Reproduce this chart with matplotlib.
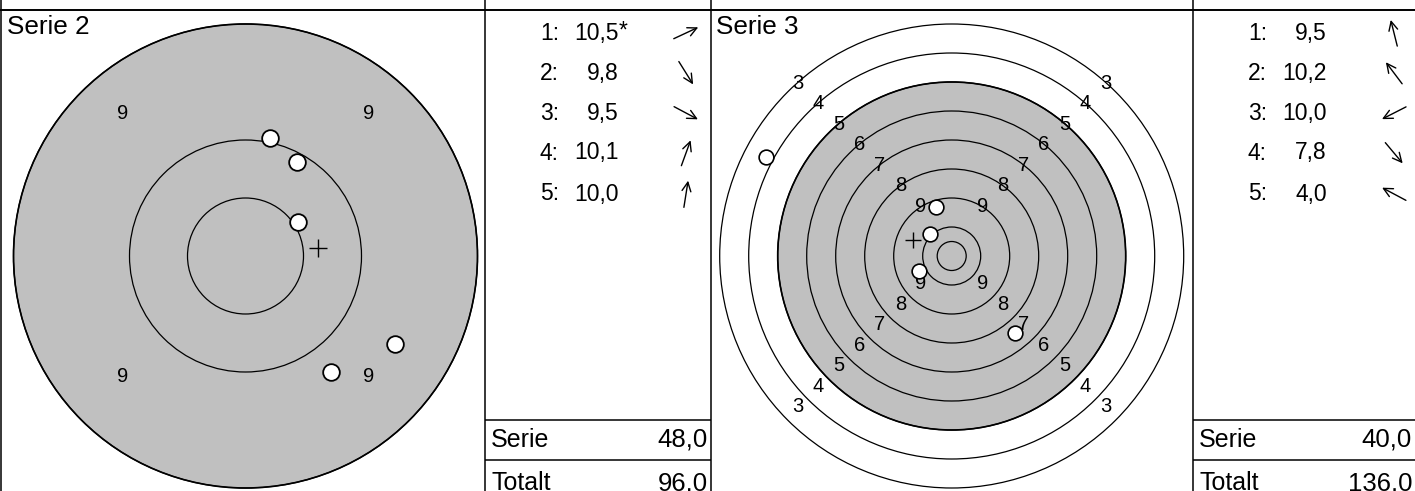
import numpy as np
import matplotlib
matplotlib.use("Agg")
import matplotlib.pyplot as plt
from matplotlib.patches import Circle, FancyArrowPatch
from matplotlib.transforms import ScaledTranslation

plt.rcParams['font.family'] = ['Liberation Sans', 'DejaVu Sans']

# ---------------- data ----------------
series_titles = ["Serie 2", "Serie 3"]
ring_numbers = [3, 4, 5, 6, 7, 8, 9, 10]      # ring value n has radius 11-n (ring units)
black_from_ring = 5                           # grey (aiming black) area = ring 5 and up

# shot positions in ring units, relative to target centre (y up)
s2_x = [0.45, 0.74, 1.29, 0.44, 0.21]
s2_y = [0.29, -1.00, -0.76, 0.81, 1.02]
s3_x = [-0.54, -0.75, -1.13, 2.18, -6.41]
s3_y = [1.70, 0.76, -0.52, -2.66, 3.42]

s2_scores = [10.5, 9.8, 9.5, 10.1, 10.0]
s3_scores = [9.5, 10.2, 10.0, 7.8, 4.0]
s2_inner = [True, False, False, False, False]
s3_inner = [False, False, False, False, False]

# direction arrows (degrees, counter-clockwise from east)
s2_dirs = [25, -58, -28, 70, 81]
s3_dirs = [104, 127, 207, -50, 152]

total_before = 48.0   # total after Serie 1

# ---------------- figure ----------------
W, H = 1415, 491
fig = plt.figure(figsize=(W / 100, H / 100), dpi=100)
fr = fig.add_axes([0, 0, 1, 1])
fr.set_xlim(0, W)
fr.set_ylim(H, 0)
fr.axis('off')

LW = 1.1
GREY = '#c0c0c0'

# layout grid
fr.plot([0, W], [10, 10], color='black', lw=1.4, solid_capstyle='butt')
for x in [1, 485, 711, 1193]:
    fr.plot([x, x], [0, H], color='black', lw=LW, solid_capstyle='butt')
score_cols = [(485, 711), (1193, W + 5)]
for (a, b) in score_cols:
    for y in [420, 460]:
        fr.plot([a, b], [y, y], color='black', lw=LW, solid_capstyle='butt')

def fmt(v):
    return f"{v:.1f}".replace('.', ',')

def make_target_ax(cx, cy, ppu, half_px):
    ax = fig.add_axes([(cx - half_px) / W, (H - cy - half_px) / H,
                       2 * half_px / W, 2 * half_px / H])
    lim = half_px / ppu
    ax.set_xlim(-lim, lim)
    ax.set_ylim(-lim, lim)
    ax.axis('off')
    return ax

def draw_target(ax, view_r, xs, ys, ms, ms_cross, mew):
    # grey aiming area
    grey_r = min(11 - black_from_ring, view_r)
    ax.add_patch(Circle((0, 0), grey_r, facecolor=GREY, edgecolor='black',
                        lw=1.2, zorder=1, clip_on=False))
    for n in ring_numbers:
        r = 11 - n
        if r <= view_r:
            ax.add_patch(Circle((0, 0), r, facecolor='none', edgecolor='black',
                                lw=0.9, zorder=2, clip_on=False))
    ax.add_patch(Circle((0, 0), 0.5, facecolor='none', edgecolor='black',
                        lw=0.9, zorder=2, clip_on=False))
    # ring numbers on the diagonals
    for n in ring_numbers[:-1]:
        rr = 10.5 - n
        if rr < view_r:
            d = rr / np.sqrt(2)
            for sx, sy in [(-1, 1), (1, 1), (-1, -1), (1, -1)]:
                off = ax.transData + ScaledTranslation(0, (sy * 8 + 11) / 100,
                                                       fig.dpi_scale_trans)
                ax.text(sx * d, sy * d, str(n), ha='center', va='center',
                        fontsize=14.5, transform=off, zorder=3)
    ax.plot(xs, ys, 'o', ms=ms, mfc='white', mec='black', mew=mew,
            zorder=5, clip_on=False)
    ax.plot([np.mean(xs)], [np.mean(ys)], '+', ms=ms_cross, color='black',
            mew=1.0, zorder=4, clip_on=False)

ax2 = make_target_ax(245.5, 256, 116, 240)
draw_target(ax2, 2, s2_x, s2_y, 12.0, 13, 1.3)
ax3 = make_target_ax(951.7, 256, 29, 240)
draw_target(ax3, 8, s3_x, s3_y, 10.6, 11, 1.2)

# panel titles
fr.text(7, 27, series_titles[0], ha='left', va='center', fontsize=18.8)
fr.text(716, 27, series_titles[1], ha='left', va='center', fontsize=18.8)

# score columns
row_y = [33, 73, 113, 153, 194]
ARROW_L = 27
running = total_before
for (a, b), scores, inner, dirs in zip(score_cols, [s2_scores, s3_scores],
                                        [s2_inner, s3_inner], [s2_dirs, s3_dirs]):
    for i, (v, inn, ang) in enumerate(zip(scores, inner, dirs)):
        y = row_y[i]
        fr.text(a + 55, y, f"{i + 1}:", ha='left', va='center', fontsize=16.5)
        fr.text(a + 134, y, fmt(v), ha='right', va='center', fontsize=16.5)
        if inn:
            fr.text(a + 134, y - 2, "*", ha='left', va='center', fontsize=16.5)
        cx = a + 201
        dx, dy = np.cos(np.radians(ang)), -np.sin(np.radians(ang))
        p0 = (cx - dx * ARROW_L / 2, y - dy * ARROW_L / 2)
        p1 = (cx + dx * ARROW_L / 2, y + dy * ARROW_L / 2)
        fr.add_patch(FancyArrowPatch(p0, p1, arrowstyle='->,head_length=0.65,head_width=0.32',
                                     mutation_scale=10, lw=1.0, color='black',
                                     shrinkA=0, shrinkB=0))
    serie_sum = float(np.sum(np.floor(np.array(scores) + 1e-9)))
    running += serie_sum
    right_x = min(b, W) - 3
    fr.text(a + 6, 440, "Serie", ha='left', va='center', fontsize=18)
    fr.text(right_x, 440, fmt(serie_sum), ha='right', va='center', fontsize=18.5)
    fr.text(a + 6, 483, "Totalt", ha='left', va='center', fontsize=18)
    fr.text(right_x, 483, fmt(running), ha='right', va='center', fontsize=18.5)

fig.savefig("out.png", dpi=100)
